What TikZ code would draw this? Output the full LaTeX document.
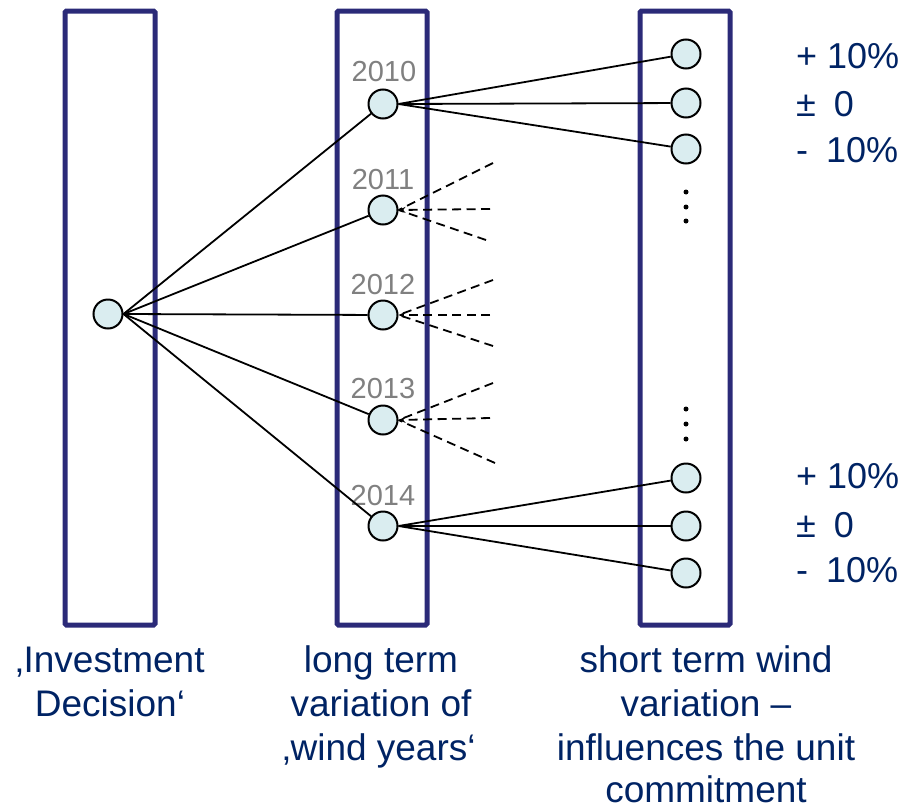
\documentclass[tikz,border=0pt]{standalone}
\usepackage{fontspec}
\setmainfont{Liberation Sans}
\usetikzlibrary{arrows.meta}
\definecolor{boxc}{RGB}{43,42,120}
\definecolor{txtc}{RGB}{0,35,100}
\definecolor{fillc}{RGB}{218,237,240}
\definecolor{yearc}{RGB}{128,128,128}
\begin{document}
\begin{tikzpicture}[x=1pt,y=-1pt,
  colbox/.style={draw=boxc,line width=5pt,rounded corners=1.5pt,inner sep=0pt,minimum width=90pt,minimum height=614pt},
  state/.style={circle,draw=black,fill=fillc,line width=2pt,minimum size=29pt,inner sep=0pt},
  link/.style={line width=1.8pt},
  dlink/.style={line width=1.8pt,dash pattern=on 9pt off 5.5pt},
  yearlbl/.style={text=yearc,font=\fontsize{29}{32}\selectfont,anchor=base,inner sep=0pt},
  pct/.style={text=txtc,font=\fontsize{36}{40}\selectfont,anchor=base west,inner sep=0pt},
  capt/.style={text=txtc,font=\fontsize{37}{44}\selectfont,anchor=base,inner sep=0pt},
  dotc/.style={circle,fill=black,inner sep=0pt,minimum size=5pt}]
\useasboundingbox (0,0) rectangle (907,806);

% columns
\node[colbox] (colA) at (110,318) {};
\node[colbox] (colB) at (382,318) {};
\node[colbox] (colC) at (685,318) {};

% year labels
\node[yearlbl] (t10) at (384,81) {2010};
\node[yearlbl] (t11) at (383,189) {2011};
\node[yearlbl] (t12) at (383,294) {2012};
\node[yearlbl] (t13) at (383,398) {2013};
\node[yearlbl] (t14) at (383,505) {2014};

% circles
\node[state] (L) at (108,314) {};
\node[state] (y10) at (383,104) {};
\node[state] (y11) at (383,210) {};
\node[state] (y12) at (383,315) {};
\node[state] (y13) at (383,420) {};
\node[state] (y14) at (383,526) {};
\node[state] (r1) at (686,54) {};
\node[state] (r2) at (686,103) {};
\node[state] (r3) at (686,149) {};
\node[state] (r4) at (686,478) {};
\node[state] (r5) at (686,526) {};
\node[state] (r6) at (686,573) {};

% dashed free ends
\coordinate (u11) at (493,163);
\coordinate (m11) at (490,209);
\coordinate (l11) at (486,240);
\coordinate (u12) at (493,280);
\coordinate (m12) at (490,315);
\coordinate (l12) at (493,346);
\coordinate (u13) at (493,383);
\coordinate (m13) at (490,418);
\coordinate (l13) at (495,463);

% connectors
\foreach \y in {10,11,12,13,14} \draw[link] (L.east) -- (y\y);
\foreach \y in {11,12,13} {
  \draw[dlink] (u\y) -- (y\y.east);
  \draw[dlink] (l\y) -- (y\y.east);
  \draw[dlink,-{Stealth[length=7pt,width=6pt]}] (m\y) -- (y\y.east);
}
\foreach \r in {1,2,3} \draw[link] (y10.east) -- (r\r);
\foreach \r in {4,5,6} \draw[link] (y14.east) -- (r\r);

% dots
\node[dotc] (d1) at (686,192) {};
\node[dotc] (d2) at (686,207) {};
\node[dotc] (d3) at (686,221) {};
\node[dotc] (d4) at (686,409) {};
\node[dotc] (d5) at (686,424) {};
\node[dotc] (d6) at (686,439) {};

% percentage labels
\node[pct] (a1) at (796,68) {+ 10\%};
\node[pct] (a2) at (796,116) {±\hspace{18pt}0};
\node[pct] (a3) at (796,162) {-\hspace{18pt}10\%};
\node[pct] (a4) at (796,488) {+ 10\%};
\node[pct] (a5) at (796,537) {±\hspace{18pt}0};
\node[pct] (a6) at (796,582) {-\hspace{18pt}10\%};

% captions
\node[capt] (cA1) at (110,672) {‚Investment};
\node[capt] (cA2) at (110,716) {Decision‘};
\node[capt] (cB1) at (381,672) {long term};
\node[capt] (cB2) at (381,716) {variation of};
\node[capt] (cB3) at (379,760) {‚wind years‘};
\node[capt] (cC1) at (706,672) {short term wind};
\node[capt] (cC2) at (706,716) {variation –};
\node[capt] (cC3) at (706,760) {influences the unit};
\node[capt] (cC4) at (706,802) {commitment};
\end{tikzpicture}
\end{document}
